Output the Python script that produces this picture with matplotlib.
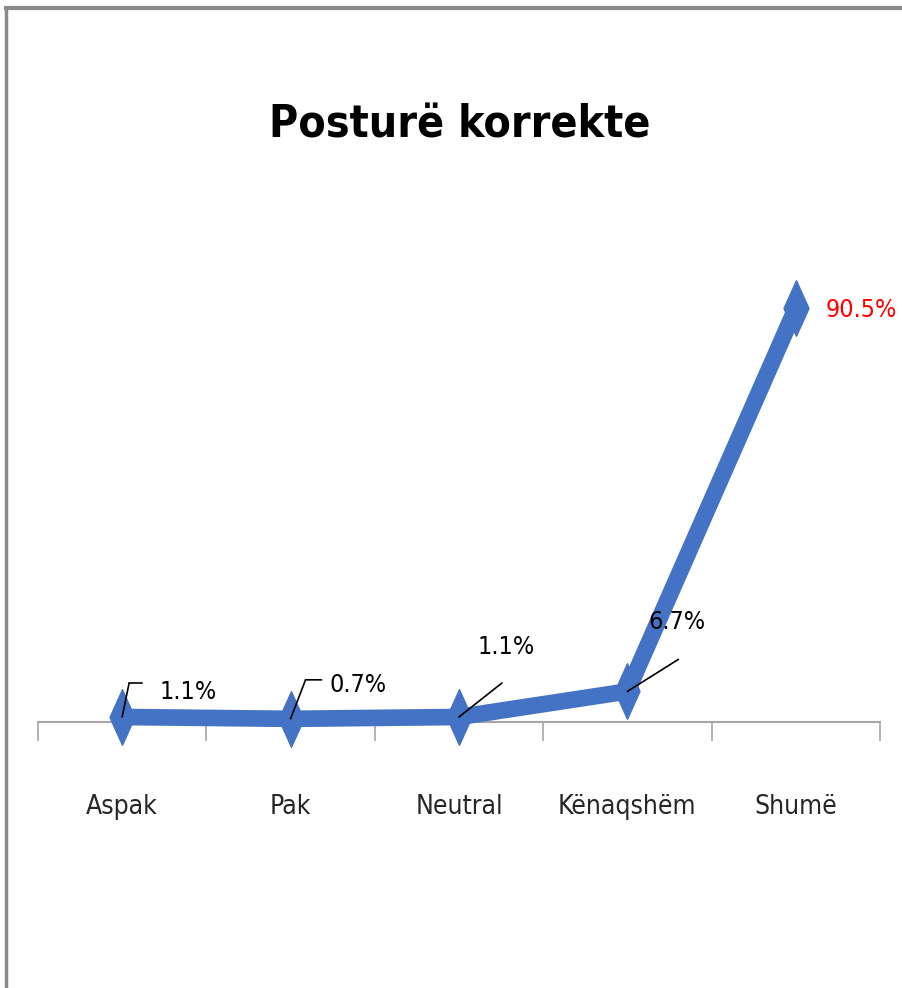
#!/usr/bin/env python3
# -*- coding: utf-8 -*-

import matplotlib.pyplot as plt
import matplotlib as mpl
from matplotlib import font_manager as fm
from matplotlib.path import Path
from matplotlib.transforms import offset_copy
from matplotlib.lines import Line2D

# Données
categories = ['Aspak', 'Pak', 'Neutral', 'Kënaqshëm', 'Shumë']
values = [1.1, 0.7, 1.1, 6.7, 90.5]
labels = ['1.1%', '0.7%', '1.1%', '6.7%', '90.5%']
title = 'Posturë korrekte'

blue = '#4472C4'

# police étroite si disponible
files = [f.fname for f in fm.fontManager.ttflist]
def find(keys):
    for k in keys:
        for f in files:
            if f.endswith(k):
                return f
    return None
reg = find(['LiberationSansNarrow-Regular.ttf', 'DejaVuSansCondensed.ttf'])
bold = find(['LiberationSansNarrow-Bold.ttf', 'DejaVuSansCondensed-Bold.ttf'])
fp = fm.FontProperties(fname=reg) if reg else fm.FontProperties(family='DejaVu Sans')
fpb = fm.FontProperties(fname=bold) if bold else fm.FontProperties(family='DejaVu Sans', weight='bold')
narrow = reg is not None and 'Narrow' in reg
cond = reg is not None

fig = plt.figure(figsize=(9.03, 9.88), dpi=100)
ax = fig.add_axes([0.042, 0.2692, 0.9325, 0.4626])

# cadre gris (haut et gauche visibles)
fig.add_artist(Line2D([6/903, 6/903], [0, 1 - 8/988], color='#8a8a8a', lw=2.5,
                      transform=fig.transFigure))
fig.add_artist(Line2D([6/903, 1], [1 - 8/988, 1 - 8/988], color='#8a8a8a', lw=3,
                      transform=fig.transFigure))

# losange fin
diamond = Path([(0, 1), (0.45, 0), (0, -1), (-0.45, 0), (0, 1)],
               [Path.MOVETO, Path.LINETO, Path.LINETO, Path.LINETO, Path.CLOSEPOLY])

x = list(range(len(categories)))
ax.plot(x, values, color=blue, lw=12, solid_joinstyle='miter', zorder=3, clip_on=False)
ax.plot(x, values, ls='', marker=diamond, ms=40, color=blue, zorder=4, clip_on=False)

tick_fs = 23 if narrow else (19 if cond else 17)
lab_fs = 21 if narrow else (18 if cond else 16)
tit_fs = 40 if narrow else (32 if cond else 28)

ax.set_xlim(-0.5, 4.5)
ax.set_ylim(0, 100)
for s in ['top', 'left', 'right']:
    ax.spines[s].set_visible(False)
ax.spines['bottom'].set_color('#a6a6a6')
ax.spines['bottom'].set_linewidth(1.5)
ax.spines['bottom'].set_zorder(1)
ax.yaxis.set_visible(False)
ax.set_xticks(x)
ax.set_xticklabels(categories, color='#262626')
for t in ax.get_xticklabels():
    t.set_fontproperties(fp)
    t.set_fontsize(tick_fs)
ax.set_xticks([i - 0.5 for i in range(len(categories) + 1)], minor=True)
ax.tick_params(axis='x', which='major', length=0, pad=52)
ax.tick_params(axis='x', which='minor', length=14, width=1.2, color='#a6a6a6', direction='out')

# étiquettes (décalages en pixels depuis le point)
lab_off = [(37, 25, 'left'), (39, 34, 'left'), (47, 70, 'center'), (50, 69, 'center'), (30, -2, 'left')]
lab_col = ['black', 'black', 'black', 'black', '#ff0000']
leaders = [[(0, 0), (7, 34), (20, 34)],
           [(0, 0), (15, 39), (31, 39)],
           [(0, 0), (43, 34)],
           [(0, 0), (51, 32)],
           []]

for i in x:
    dx, dy, ha = lab_off[i]
    ax.annotate(labels[i], xy=(i, values[i]), xytext=(dx, dy), textcoords='offset pixels',
                ha=ha, va='center', fontproperties=fp, fontsize=lab_fs,
                color=lab_col[i], zorder=6)
    pts = leaders[i]
    for (ax0, ay0), (ax1, ay1) in zip(pts[:-1], pts[1:]):
        ax.annotate('', xy=(i, values[i]),
                    xycoords=offset_copy(ax.transData, fig=fig, x=ax0, y=ay0, units='dots'),
                    xytext=(i, values[i]),
                    textcoords=offset_copy(ax.transData, fig=fig, x=ax1, y=ay1, units='dots'),
                    arrowprops=dict(arrowstyle='-', color='black', lw=1.2,
                                    shrinkA=0, shrinkB=0), zorder=5)

fig.text(0.509, 1 - 125/988, title, ha='center', va='center',
         fontproperties=fpb, fontsize=tit_fs, color='black')

fig.savefig('out.png', dpi=100, facecolor='white')
